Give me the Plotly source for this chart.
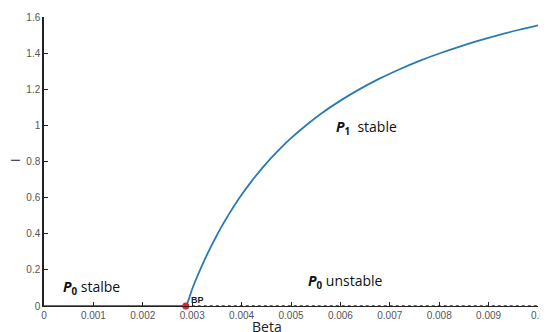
import plotly.graph_objects as go

# P1 branch (stable)
beta_p1 = [0.00287, 0.0029, 0.0030, 0.0031, 0.0032, 0.0033, 0.0034, 0.0035, 0.0036, 0.0037,
           0.0038, 0.0039, 0.0040, 0.0042, 0.0044, 0.0046, 0.0048,
           0.0050, 0.0053, 0.0056, 0.0060, 0.0064, 0.0068, 0.0072, 0.0076, 0.0080,
           0.0084, 0.0088, 0.0092, 0.0096, 0.0100]
i_p1 = [0.0, 0.015, 0.094, 0.162, 0.225, 0.284, 0.340, 0.392, 0.442, 0.489,
        0.533, 0.576, 0.616, 0.690, 0.758, 0.820, 0.877,
        0.929, 0.999, 1.063, 1.137, 1.202, 1.260, 1.311, 1.357, 1.398,
        1.435, 1.469, 1.500, 1.528, 1.554]

# P0 branch: stable before BP, unstable after
beta_p0_stable = [0.0, 0.00287]
i_p0_stable = [0.0, 0.0]
beta_p0_unstable = [0.00287, 0.0100]
i_p0_unstable = [0.0, 0.0]

bp_beta = [0.00287]
bp_i = [0.0]

x_tickvals = [0, 0.001, 0.002, 0.003, 0.004, 0.005, 0.006, 0.007, 0.008, 0.009, 0.01]
x_ticktext = ["0", "0.001", "0.002", "0.003", "0.004", "0.005", "0.006", "0.007",
              "0.008", "0.009", "0.0"]
y_tickvals = [0, 0.2, 0.4, 0.6, 0.8, 1.0, 1.2, 1.4, 1.6]
y_ticktext = ["0", "0.2", "0.4", "0.6", "0.8", "1", "1.2", "1.4", "1.6"]

blue = "#2a7ab3"

fig = go.Figure()
fig.add_trace(go.Scatter(x=beta_p0_stable, y=i_p0_stable, mode="lines",
                         line=dict(color=blue, width=1.8), cliponaxis=False))
fig.add_trace(go.Scatter(x=beta_p0_unstable, y=i_p0_unstable, mode="lines",
                         line=dict(color=blue, width=1.8, dash="dot"), cliponaxis=False))
fig.add_trace(go.Scatter(x=beta_p1, y=i_p1, mode="lines", line_shape="spline",
                         line=dict(color=blue, width=1.8), cliponaxis=False))
fig.add_trace(go.Scatter(x=bp_beta, y=bp_i, mode="markers",
                         marker=dict(color="#e8202a", size=7), cliponaxis=False))

font_lab = "Open Sans, Liberation Sans, sans-serif"
fig.add_annotation(x=0.00287, y=0, xref="x", yref="y", showarrow=False,
                   text="<b>BP</b>", xanchor="left", yanchor="bottom",
                   xshift=3, yshift=-1,
                   font=dict(family="Liberation Sans", size=9, color="#222"))
fig.add_annotation(x=0.00097, y=0.10, xref="x", yref="y", showarrow=False,
                   text="<b><i>P</i></b><sub><b>0</b></sub> stalbe",
                   font=dict(family=font_lab, size=14, color="#111"))
fig.add_annotation(x=0.00611, y=0.135, xref="x", yref="y", showarrow=False,
                   text="<b><i>P</i></b><sub><b>0</b></sub> unstable",
                   font=dict(family=font_lab, size=14, color="#111"))
fig.add_annotation(x=0.00652, y=0.99, xref="x", yref="y", showarrow=False,
                   text="<b><i>P</i></b><sub><b>1</b></sub>  stable",
                   font=dict(family=font_lab, size=14, color="#111"))
# axis titles
fig.add_annotation(x=0.452, y=0, xref="paper", yref="paper", showarrow=False,
                   text="Beta", yanchor="top", yshift=-9,
                   font=dict(family=font_lab, size=14, color="#222"))
fig.add_annotation(x=0, y=0.505, xref="paper", yref="paper", showarrow=False,
                   text="I", textangle=-90, xanchor="center", xshift=-29,
                   font=dict(family=font_lab, size=13, color="#222"))

# the page body adds an 8px margin, so the figure is 8px smaller and shifted
fig.update_layout(
    width=540, height=324,
    margin=dict(l=36, r=10, t=9, b=26),
    paper_bgcolor="white", plot_bgcolor="white",
    showlegend=False,
    xaxis=dict(range=[0, 0.01], tickvals=x_tickvals, ticktext=x_ticktext,
               ticks="inside", ticklen=4, tickwidth=1.2, tickcolor="#222",
               showline=True, linecolor="#222", linewidth=1.2,
               showgrid=False, zeroline=False, automargin=False,
               tickfont=dict(family="Liberation Sans", size=10, color="#555")),
    yaxis=dict(range=[0, 1.6], tickvals=y_tickvals, ticktext=y_ticktext,
               ticks="inside", ticklen=4, tickwidth=1.2, tickcolor="#222",
               showline=True, linecolor="#222", linewidth=1.5,
               showgrid=False, zeroline=False, automargin=False,
               tickfont=dict(family="Liberation Sans", size=10, color="#555")),
)

fig.write_html("out.html")
